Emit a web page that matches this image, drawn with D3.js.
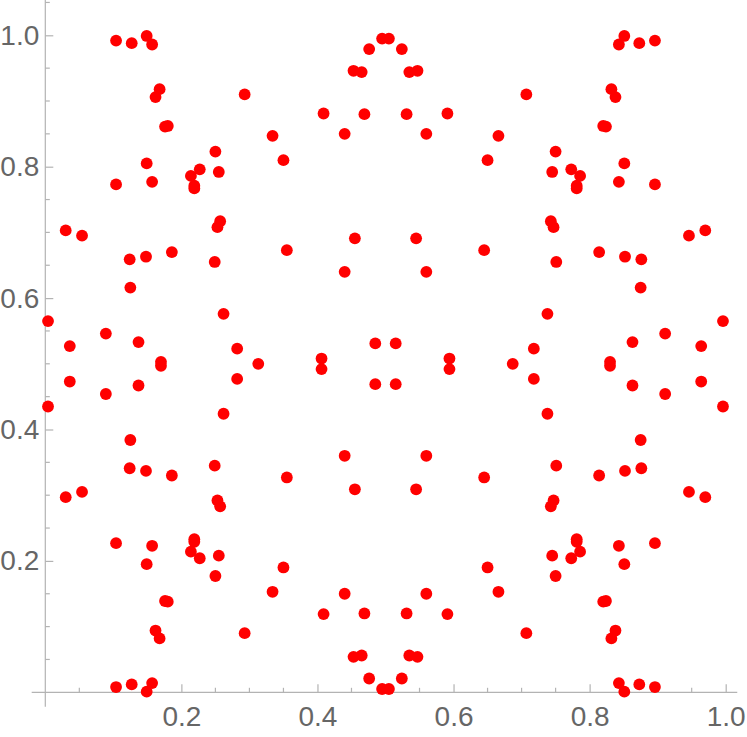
<!DOCTYPE html>
<html>
<head>
<meta charset="utf-8">
<script src="https://cdn.jsdelivr.net/npm/d3@7"></script>
<style>
  html, body { margin: 0; padding: 0; background: #fff; }
  svg { display: block; }
</style>
</head>
<body>
<svg id="chart" width="747" height="737"></svg>
<script>
// ---- data ----
const lowerLeft = [[0.030,0.297],[0.054,0.305],[0.104,0.227],[0.157,0.223],[0.149,0.195],[0.253,0.292],[0.257,0.283],[0.219,0.233],[0.219,0.229],[0.214,0.214],[0.227,0.204],[0.255,0.208],[0.250,0.177],[0.176,0.139],[0.180,0.138],[0.162,0.094],[0.168,0.082],[0.293,0.090],[0.104,0.008],[0.127,0.012],[0.149,0.001],[0.157,0.014],[0.004,0.435],[0.036,0.473],[0.089,0.454],[0.137,0.467],[0.170,0.497],[0.282,0.477],[0.262,0.424],[0.125,0.384],[0.124,0.341],[0.148,0.337],[0.186,0.330],[0.249,0.345],[0.406,0.492],[0.485,0.469],[0.440,0.360],[0.355,0.327],[0.455,0.309],[0.350,0.190],[0.334,0.153],[0.440,0.150],[0.409,0.119],[0.469,0.120],[0.453,0.054],[0.465,0.056],[0.476,0.021],[0.495,0.005]];
const lowerRight = [[0.970,0.297],[0.946,0.305],[0.896,0.227],[0.843,0.223],[0.851,0.195],[0.747,0.292],[0.743,0.283],[0.781,0.233],[0.781,0.229],[0.786,0.214],[0.773,0.204],[0.745,0.208],[0.750,0.177],[0.824,0.139],[0.820,0.138],[0.838,0.094],[0.832,0.082],[0.707,0.090],[0.896,0.008],[0.873,0.012],[0.851,0.001],[0.843,0.014],[0.996,0.435],[0.964,0.473],[0.911,0.454],[0.863,0.467],[0.830,0.497],[0.718,0.477],[0.738,0.424],[0.875,0.384],[0.876,0.341],[0.852,0.337],[0.814,0.330],[0.751,0.345],[0.594,0.492],[0.515,0.469],[0.560,0.360],[0.645,0.327],[0.545,0.309],[0.650,0.190],[0.666,0.153],[0.560,0.150],[0.591,0.119],[0.531,0.120],[0.547,0.054],[0.535,0.056],[0.524,0.021],[0.505,0.005]];
const upperLeft = [[0.030,0.703],[0.054,0.695],[0.104,0.773],[0.157,0.777],[0.149,0.805],[0.253,0.708],[0.257,0.717],[0.219,0.767],[0.219,0.771],[0.214,0.786],[0.227,0.796],[0.255,0.792],[0.250,0.823],[0.176,0.861],[0.180,0.862],[0.162,0.906],[0.168,0.918],[0.293,0.910],[0.104,0.992],[0.127,0.988],[0.149,0.999],[0.157,0.986],[0.004,0.565],[0.036,0.527],[0.089,0.546],[0.137,0.533],[0.170,0.503],[0.282,0.523],[0.262,0.576],[0.125,0.616],[0.124,0.659],[0.148,0.663],[0.186,0.670],[0.249,0.655],[0.406,0.508],[0.485,0.531],[0.440,0.640],[0.355,0.673],[0.455,0.691],[0.350,0.810],[0.334,0.847],[0.440,0.850],[0.409,0.881],[0.469,0.880],[0.453,0.946],[0.465,0.944],[0.476,0.979],[0.495,0.995]];
const upperRight = [[0.970,0.703],[0.946,0.695],[0.896,0.773],[0.843,0.777],[0.851,0.805],[0.747,0.708],[0.743,0.717],[0.781,0.767],[0.781,0.771],[0.786,0.786],[0.773,0.796],[0.745,0.792],[0.750,0.823],[0.824,0.861],[0.820,0.862],[0.838,0.906],[0.832,0.918],[0.707,0.910],[0.896,0.992],[0.873,0.988],[0.851,0.999],[0.843,0.986],[0.996,0.565],[0.964,0.527],[0.911,0.546],[0.863,0.533],[0.830,0.503],[0.718,0.523],[0.738,0.576],[0.875,0.616],[0.876,0.659],[0.852,0.663],[0.814,0.670],[0.751,0.655],[0.594,0.508],[0.515,0.531],[0.560,0.640],[0.645,0.673],[0.545,0.691],[0.650,0.810],[0.666,0.847],[0.560,0.850],[0.591,0.881],[0.531,0.880],[0.547,0.946],[0.535,0.944],[0.524,0.979],[0.505,0.995]];
const midline = [[0.313,0.500],[0.687,0.500]];

const majorTicks = [0.2, 0.4, 0.6, 0.8, 1.0];
const majorLabels = ["0.2", "0.4", "0.6", "0.8", "1.0"];
const xMinorTicks = [0.05,0.1,0.15,0.25,0.3,0.35,0.45,0.5,0.55,0.65,0.7,0.75,0.85,0.9,0.95];
const yMinorTicks = [0.05,0.1,0.15,0.25,0.3,0.35,0.45,0.5,0.55,0.65,0.7,0.75,0.85,0.9,0.95,1.05];

// ---- drawing ----
const svg = d3.select("#chart");
const x = d3.scaleLinear().domain([0, 1]).range([45.3, 725.7]);
const y = d3.scaleLinear().domain([0, 1]).range([692.3, 35.3]);

const axisColor = "#b3b3b3";
const labelColor = "#666666";
const fontFamily = "'Liberation Sans', Arial, sans-serif";

// x axis (at y=0)
const xAxis = d3.axisBottom(x)
  .tickValues(majorTicks)
  .tickFormat((d, i) => majorLabels[i])
  .tickSizeInner(-8).tickSizeOuter(0).tickPadding(22);
const gx = svg.append("g").attr("transform", `translate(0,${y(0)})`).call(xAxis);
gx.select(".domain").remove();
gx.append("line")
  .attr("x1", x(-0.02)).attr("x2", x(1.017))
  .attr("y1", 0).attr("y2", 0)
  .attr("stroke", axisColor).attr("stroke-width", 1.2);
gx.selectAll(".tick line").attr("stroke", axisColor).attr("stroke-width", 1.2);
gx.selectAll(".tick text")
  .attr("fill", labelColor).attr("font-size", "28px").attr("font-family", fontFamily)
  .attr("dy", "0.71em").attr("y", 14);
gx.selectAll(".minor").data(xMinorTicks).enter().append("line")
  .attr("x1", d => x(d)).attr("x2", d => x(d))
  .attr("y1", 0).attr("y2", -4.5)
  .attr("stroke", axisColor).attr("stroke-width", 1.2);

// y axis (at x=0)
const yAxis = d3.axisLeft(y)
  .tickValues(majorTicks)
  .tickFormat((d, i) => majorLabels[i])
  .tickSizeInner(-8).tickSizeOuter(0).tickPadding(14);
const gy = svg.append("g").attr("transform", `translate(${x(0)},0)`).call(yAxis);
gy.select(".domain").remove();
gy.append("line")
  .attr("x1", 0).attr("x2", 0)
  .attr("y1", y(-0.022)).attr("y2", y(1.055))
  .attr("stroke", axisColor).attr("stroke-width", 1.2);
gy.selectAll(".tick line").attr("stroke", axisColor).attr("stroke-width", 1.2);
gy.selectAll(".tick text")
  .attr("fill", labelColor).attr("font-size", "28px").attr("font-family", fontFamily)
  .attr("x", -6);
gy.selectAll(".minor").data(yMinorTicks).enter().append("line")
  .attr("x1", 0).attr("x2", 4.5)
  .attr("y1", d => y(d)).attr("y2", d => y(d))
  .attr("stroke", axisColor).attr("stroke-width", 1.2);

// points
const allPoints = [].concat(lowerLeft, lowerRight, upperLeft, upperRight, midline);
svg.append("g").selectAll("circle").data(allPoints).enter().append("circle")
  .attr("cx", d => x(d[0]))
  .attr("cy", d => y(d[1]))
  .attr("r", 5.9)
  .attr("fill", "#ff0000");
</script>
</body>
</html>
